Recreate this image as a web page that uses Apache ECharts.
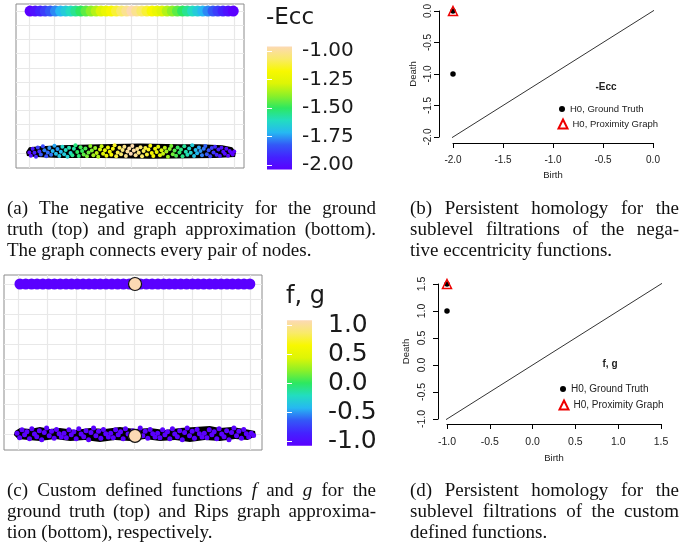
<!DOCTYPE html>
<html><head><meta charset="utf-8">
<script src="https://cdn.jsdelivr.net/npm/echarts/dist/echarts.min.js"></script>
<style>html,body{margin:0;padding:0;background:#fff}#c{width:686px;height:553px}</style>
</head><body><div id="c"></div>
<script>
// ---------- data ----------
const palette = ['#5A00FF','#4422FF','#3358F7','#26B8F2','#22DDC0','#2DE860','#8CF028','#DDF506','#F8F800','#F9EA6A','#FCD9B4'];

// ground-truth node positions (both experiments)
const truthX = [0.05,0.25,0.45,0.64,0.84,1.04,1.24,1.44,1.64,1.83,2.03,2.23,2.43,2.63,2.82,3.02,3.22,3.42,3.62,3.82,4.02,4.21,4.41,4.61,4.81,5.01,5.20,5.40,5.60,5.80,6.00,6.19,6.39,6.59,6.79,6.99,7.19,7.38,7.58,7.78,7.98];
const truthY = 10;
const eccTopVal = [-2.00,-1.95,-1.90,-1.85,-1.80,-1.75,-1.70,-1.65,-1.60,-1.55,-1.50,-1.45,-1.40,-1.35,-1.30,-1.25,-1.20,-1.15,-1.10,-1.05,-1.00,-1.05,-1.10,-1.15,-1.20,-1.25,-1.30,-1.35,-1.40,-1.45,-1.50,-1.55,-1.60,-1.65,-1.70,-1.75,-1.80,-1.85,-1.90,-1.95,-2.00];
const fgTopVal = [-1,-1,-1,-1,-1,-1,-1,-1,-1,-1,-1,-1,-1,-1,-1,-1,-1,-1,-1,-1,1,-1,-1,-1,-1,-1,-1,-1,-1,-1,-1,-1,-1,-1,-1,-1,-1,-1,-1,-1,-1];

// graph approximation nodes [x, y, -ecc]
const eccBottom = [[0.02,0.05,-1.98],[0.08,-0.18,-1.96],[0.15,0.30,-1.93],[0.22,0.02,-1.92],[0.28,-0.25,-1.90],[0.35,0.40,-1.85],[0.41,0.12,-1.88],[0.47,-0.10,-1.80],[0.55,0.48,-1.83],[0.61,0.20,-1.76],[0.68,-0.22,-1.82],[0.74,0.05,-1.78],[0.80,0.35,-1.74],[0.87,-0.12,-1.77],[0.93,0.15,-1.70],[1.00,0.52,-1.72],[1.06,-0.05,-1.68],[1.12,0.28,-1.73],[1.19,-0.20,-1.66],[1.25,0.10,-1.69],[1.31,0.45,-1.62],[1.38,-0.08,-1.65],[1.44,0.22,-1.60],[1.51,-0.25,-1.63],[1.57,0.38,-1.58],[1.63,0.00,-1.61],[1.70,-0.15,-1.55],[1.76,0.30,-1.57],[1.82,0.55,-1.53],[1.89,0.08,-1.50],[1.95,-0.20,-1.52],[2.02,0.42,-1.48],[2.08,0.15,-1.49],[2.14,-0.10,-1.45],[2.21,0.32,-1.47],[2.27,-0.22,-1.42],[2.33,0.05,-1.44],[2.40,0.50,-1.40],[2.46,0.18,-1.41],[2.52,-0.15,-1.37],[2.59,0.35,-1.39],[2.65,0.00,-1.34],[2.71,-0.25,-1.36],[2.78,0.25,-1.31],[2.84,0.48,-1.33],[2.90,-0.05,-1.29],[2.97,0.20,-1.27],[3.03,-0.18,-1.25],[3.09,0.40,-1.26],[3.16,0.10,-1.22],[3.22,-0.12,-1.20],[3.28,0.30,-1.19],[3.35,0.55,-1.16],[3.41,-0.22,-1.15],[3.47,0.05,-1.13],[3.54,0.38,-1.12],[3.60,-0.08,-1.09],[3.66,0.22,-1.08],[3.73,0.45,-1.06],[3.79,-0.20,-1.05],[3.85,0.12,-1.03],[3.92,0.32,-1.02],[3.98,-0.05,-1.00],[4.04,0.50,-1.01],[4.10,0.18,-1.02],[4.17,-0.15,-1.04],[4.23,0.28,-1.05],[4.29,0.02,-1.07],[4.36,0.42,-1.09],[4.42,-0.22,-1.10],[4.48,0.15,-1.12],[4.55,0.35,-1.14],[4.61,-0.10,-1.15],[4.67,0.25,-1.17],[4.74,0.52,-1.19],[4.80,0.00,-1.20],[4.86,-0.20,-1.22],[4.93,0.30,-1.24],[4.99,0.08,-1.25],[5.05,0.45,-1.28],[5.12,-0.15,-1.29],[5.18,0.20,-1.31],[5.24,-0.05,-1.33],[5.31,0.38,-1.34],[5.37,0.12,-1.37],[5.43,-0.25,-1.38],[5.50,0.28,-1.40],[5.56,0.50,-1.42],[5.62,-0.08,-1.43],[5.69,0.18,-1.46],[5.75,-0.18,-1.47],[5.81,0.40,-1.49],[5.88,0.05,-1.51],[5.94,0.25,-1.53],[6.00,-0.22,-1.54],[6.07,0.48,-1.56],[6.13,0.10,-1.58],[6.19,-0.12,-1.59],[6.26,0.32,-1.62],[6.32,0.02,-1.63],[6.38,0.55,-1.65],[6.45,-0.20,-1.67],[6.51,0.22,-1.69],[6.57,-0.02,-1.70],[6.64,0.40,-1.72],[6.70,0.15,-1.74],[6.76,-0.15,-1.76],[6.83,0.30,-1.77],[6.89,0.50,-1.79],[6.95,-0.08,-1.80],[7.02,0.20,-1.82],[7.08,-0.22,-1.84],[7.14,0.35,-1.85],[7.21,0.05,-1.87],[7.27,0.45,-1.89],[7.33,-0.12,-1.90],[7.40,0.25,-1.92],[7.46,-0.20,-1.93],[7.52,0.38,-1.95],[7.59,0.10,-1.96],[7.65,-0.05,-1.97],[7.71,0.30,-1.98],[7.78,-0.18,-1.99],[7.84,0.15,-2.00],[7.90,0.02,-2.00],[7.96,-0.10,-2.00],[8.02,0.12,-2.00]];
// outline of the edge mass (complete graph)
const eccEdges = [[-0.11,0.07],[0.01,0.42],[0.44,0.49],[1.22,0.56],[2.78,0.63],[4.34,0.67],[5.91,0.63],[6.69,0.63],[7.55,0.56],[7.94,0.42],[8.09,0.07],[8.05,-0.28],[7.27,-0.35],[4.73,-0.39],[2.78,-0.35],[1.22,-0.35],[0.24,-0.28],[-0.07,-0.21]];

// Rips graph nodes [x, y, g]
const fgBottom = [[-0.05,0.05,-1],[0.04,-0.25,-1],[0.12,0.28,-1],[0.21,-0.05,-1],[0.29,0.15,-1],[0.38,-0.32,-1],[0.46,0.35,-1],[0.55,0.00,-1],[0.63,-0.18,-1],[0.72,0.22,-1],[0.80,-0.38,-1],[0.89,0.10,-1],[0.97,0.40,-1],[1.06,-0.12,-1],[1.14,0.18,-1],[1.23,-0.28,-1],[1.31,0.30,-1],[1.40,0.02,-1],[1.48,-0.20,-1],[1.57,0.05,-1],[1.65,-0.25,-1],[1.74,0.28,-1],[1.82,-0.05,-1],[1.91,0.15,-1],[1.99,-0.32,-1],[2.08,0.35,-1],[2.16,0.00,-1],[2.25,-0.18,-1],[2.33,0.22,-1],[2.42,-0.38,-1],[2.50,0.10,-1],[2.59,0.40,-1],[2.67,-0.12,-1],[2.76,0.18,-1],[2.84,-0.28,-1],[2.93,0.30,-1],[3.01,0.02,-1],[3.10,-0.20,-1],[3.18,0.05,-1],[3.27,-0.25,-1],[3.35,0.28,-1],[3.44,-0.05,-1],[3.52,0.15,-1],[3.61,-0.32,-1],[3.69,0.35,-1],[3.78,0.00,-1],[3.86,-0.18,-1],[3.95,0.22,-1],[4.03,-0.38,-1],[4.12,0.10,-1],[4.20,0.40,-1],[4.29,-0.12,-1],[4.37,0.18,-1],[4.46,-0.28,-1],[4.54,0.30,-1],[4.63,0.02,-1],[4.71,-0.20,-1],[4.80,0.05,-1],[4.88,-0.25,-1],[4.97,0.28,-1],[5.05,-0.05,-1],[5.14,0.15,-1],[5.22,-0.32,-1],[5.31,0.35,-1],[5.39,0.00,-1],[5.48,-0.18,-1],[5.56,0.22,-1],[5.65,-0.38,-1],[5.73,0.10,-1],[5.82,0.40,-1],[5.90,-0.12,-1],[5.99,0.18,-1],[6.07,-0.28,-1],[6.16,0.30,-1],[6.24,0.02,-1],[6.33,-0.20,-1],[6.41,0.05,-1],[6.50,-0.25,-1],[6.58,0.28,-1],[6.67,-0.05,-1],[6.75,0.15,-1],[6.84,-0.32,-1],[6.92,0.35,-1],[7.01,0.00,-1],[7.09,-0.18,-1],[7.18,0.22,-1],[7.26,-0.38,-1],[7.35,0.10,-1],[7.43,0.40,-1],[7.52,-0.12,-1],[7.60,0.18,-1],[7.69,-0.28,-1],[7.77,0.30,-1],[7.86,0.02,-1],[7.94,-0.20,-1],[8.03,0.05,-1],[8.11,-0.10,-1],[4.02,-0.13,1]];
const fgEdges = [[-0.12,0.2],[0.05,0.4],[0.40,0.33],[0.74,0.47],[1.09,0.33],[1.43,0.4],[1.95,0.27],[2.47,0.4],[2.98,0.33],[3.50,0.47],[4.02,0.33],[4.53,0.4],[5.05,0.27],[5.57,0.4],[6.09,0.47],[6.60,0.53],[6.95,0.4],[7.36,0.47],[7.81,0.33],[8.16,0.2],[8.19,-0.13],[7.91,-0.4],[7.47,-0.33],[6.95,-0.47],[6.43,-0.4],[5.91,-0.53],[5.40,-0.4],[4.88,-0.47],[4.36,-0.33],[3.84,-0.47],[3.33,-0.4],[2.81,-0.53],[2.29,-0.4],[1.78,-0.47],[1.26,-0.33],[0.74,-0.47],[0.33,-0.4],[-0.02,-0.33],[-0.16,-0.07]];

// panel background grid breaks
const gridBreaksX = [0,1,2,3,4,5,6,7,8];
const gridBreaksY = [0,1,2,3,4,5,6,7,8,9,10];

// colour bar ranges
const eccRange = [-2, -1];
const fgRange = [-1, 1];

// persistence diagrams [birth, death]
const pdEccGround = [[-2,-1],[-2,0]];
const pdEccProx = [[-2,0]];
const pdFgGround = [[-1,1],[-1,1.5]];
const pdFgProx = [[-1,1.5]];
const diagEcc = [-2.08, 0.09];
const diagFg = [-1.1, 1.6];

// captions
const captionA = [['(a) The negative eccentricity for the ground',1],['truth (top) and graph approximation (bottom).',1],['The graph connects every pair of nodes.',0]];
const captionB = [['(b) Persistent homology for the',1],['sublevel filtrations of the nega-',1],['tive eccentricity functions.',0]];
const captionC = [['(c) Custom defined functions *f* and *g* for the',1],['ground truth (top) and Rips graph approxima-',1],['tion (bottom), respectively.',0]];
const captionD = [['(d) Persistent homology for the',1],['sublevel filtrations of the custom',1],['defined functions.',0]];

// ---------- helpers ----------
const chart = echarts.init(document.getElementById('c'), null, {renderer:'canvas'});
const mctx = document.createElement('canvas').getContext('2d');
const CAP_FONT = 19;
function captionGraphics(lines, left, right, yc, lh) {
  const out = [];
  lines.forEach(([txt, just], i) => {
    const words = txt.split(' ').map(w => {
      const it = /^\*.+\*$/.test(w);
      const t = it ? w.slice(1, -1) : w;
      mctx.font = (it ? 'italic ' : '') + CAP_FONT + 'px "Liberation Serif"';
      return {t, it, w: mctx.measureText(t).width};
    });
    mctx.font = CAP_FONT + 'px "Liberation Serif"';
    let gap = mctx.measureText(' ').width;
    const sum = words.reduce((a, b) => a + b.w, 0);
    if (just && words.length > 1) gap = (right - left - sum) / (words.length - 1);
    let x = left;
    words.forEach(w => {
      out.push({type:'text', silent:true, x: x, y: yc + i * lh,
        style:{text:w.t, fontFamily:'Liberation Serif', fontSize:CAP_FONT, fontStyle: w.it ? 'italic' : 'normal', fill:'#111', verticalAlign:'middle'}});
      x += w.w + gap;
    });
  });
  return out;
}
const gridLineData = gridBreaksX.map(v => ({xAxis: v})).concat(gridBreaksY.map(v => ({yAxis: v})));
function gridLineSeries(ix) {
  return {type:'scatter', xAxisIndex:ix, yAxisIndex:ix, data:[], z:1, silent:true,
    markLine:{silent:true, z:1, symbol:'none', animation:false, label:{show:false},
      lineStyle:{color:'#e8e8e8', width:1.2, type:'solid'}, data: gridLineData}};
}
function polygonSeries(ix, outline) {
  return {type:'custom', xAxisIndex:ix, yAxisIndex:ix, data:[0], z:2, silent:true,
    renderItem:(p, api) => ({type:'polygon', shape:{points: outline.map(pt => api.coord(pt))}, style:{fill:'#000'}})};
}
function colorbarSeries(ix, range) {
  const ext = (range[1] - range[0]) * 0.04;
  const stops = palette.map((c, i) => ({offset: i / (palette.length - 1), color: c}));
  return {type:'custom', xAxisIndex:ix, yAxisIndex:ix, data:[0], z:1, silent:true, clip:false,
    renderItem:(p, api) => {
      const a = api.coord([0, range[1] + ext]);
      const b = api.coord([1, range[0] - ext]);
      return {type:'rect', shape:{x:a[0], y:a[1], width:b[0]-a[0], height:b[1]-a[1]},
        style:{fill: new echarts.graphic.LinearGradient(0, 1, 0, 0, stops)}};
    }};
}
function rAxis(o) {
  return Object.assign({type:'value', interval:0.5, z:5,
    axisLine:{show:true, onZero:false, lineStyle:{color:'#000', width:1}},
    axisTick:{show:true, inside:false, length:5, lineStyle:{color:'#000'}},
    splitLine:{show:false}, nameLocation:'middle',
    nameTextStyle:{fontFamily:'Liberation Sans', fontSize:9.5, color:'#222'}}, o);
}
function cbAxis(o) {
  return Object.assign({type:'value', z:5, axisLine:{show:false},
    axisTick:{show:true, inside:true, length:5, lineStyle:{color:'#fff', width:1}},
    splitLine:{show:false}}, o);
}
const legendText = {fontFamily:'Liberation Sans', fontSize:9.5, color:'#222'};
const solid = {opacity:1};

const option = {
  animation:false,
  backgroundColor:'#fff',
  title:[
    {text:'-Ecc', left:266, top:7, padding:0, textStyle:{fontFamily:'DejaVu Sans', fontSize:23, fontWeight:'normal', color:'#1a1a1a'}},
    {text:'f, g', left:286, top:285, padding:0, textStyle:{fontFamily:'DejaVu Sans', fontSize:24, fontWeight:'normal', color:'#1a1a1a'}},
    {text:'-Ecc', left:606, top:87, padding:0, textAlign:'center', textVerticalAlign:'middle', textStyle:{fontFamily:'Liberation Sans', fontSize:10, fontWeight:'bold', color:'#222'}},
    {text:'f, g', left:610, top:364, padding:0, textAlign:'center', textVerticalAlign:'middle', textStyle:{fontFamily:'Liberation Sans', fontSize:10, fontWeight:'bold', color:'#222'}}
  ],
  legend:[
    {data:['H0, Ground Truth'], left:559, top:104, orient:'vertical', itemWidth:6, itemHeight:6, padding:0, selectedMode:false, textStyle:legendText},
    {data:['H0, Proximity Graph'], left:557.5, top:118.5, orient:'vertical', itemWidth:9, itemHeight:9, padding:0, selectedMode:false, textStyle:legendText},
    {data:['H0, Ground Truth'], left:560, top:384, orient:'vertical', itemWidth:6, itemHeight:6, padding:0, selectedMode:false, textStyle:Object.assign({}, legendText, {fontSize:10})},
    {data:['H0, Proximity Graph'], left:558.5, top:399.5, orient:'vertical', itemWidth:9, itemHeight:9, padding:0, selectedMode:false, textStyle:Object.assign({}, legendText, {fontSize:10})}
  ],
  grid:[
    {left:16, top:4, width:228, height:164, show:true, borderColor:'#8c8c8c', borderWidth:1, backgroundColor:'#fff'},
    {left:267, top:51, width:25, height:114},
    {left:453, top:11, width:200, height:126},
    {left:4, top:275, width:258, height:175, show:true, borderColor:'#8c8c8c', borderWidth:1, backgroundColor:'#fff'},
    {left:287, top:325, width:25, height:116},
    {left:447, top:284, width:214, height:135}
  ],
  xAxis:[
    {type:'value', gridIndex:0, min:-0.5, max:8.4, show:false},
    {type:'value', gridIndex:1, min:0, max:1, show:false},
    rAxis({gridIndex:2, min:-2, max:0, offset:6, axisLabel:{fontFamily:'Liberation Sans', fontSize:10, color:'#222', margin:12, formatter:v => v.toFixed(1)}, name:'Birth', nameGap:27}),
    {type:'value', gridIndex:3, min:-0.5, max:8.4, show:false},
    {type:'value', gridIndex:4, min:0, max:1, show:false},
    rAxis({gridIndex:5, min:-1, max:1.5, offset:5, axisLabel:{fontFamily:'Liberation Sans', fontSize:10.5, color:'#222', margin:13, formatter:v => v.toFixed(1)}, name:'Birth', nameGap:29})
  ],
  yAxis:[
    {type:'value', gridIndex:0, min:-1.05, max:10.5, show:false},
    cbAxis({gridIndex:1, min:eccRange[0], max:eccRange[1], interval:0.25, position:'right',
      axisLabel:{fontFamily:'DejaVu Sans', fontSize:20, color:'#1a1a1a', margin:10, formatter:v => v.toFixed(2)}}),
    rAxis({gridIndex:2, min:-2, max:0, offset:14, axisLabel:{fontFamily:'Liberation Sans', fontSize:10, color:'#222', rotate:90, margin:6, formatter:v => v.toFixed(1)}, name:'Death', nameGap:21}),
    {type:'value', gridIndex:3, min:-1.07, max:10.6, show:false},
    cbAxis({gridIndex:4, min:fgRange[0], max:fgRange[1], interval:0.5, position:'right',
      axisLabel:{fontFamily:'DejaVu Sans', fontSize:25, color:'#1a1a1a', margin:16, formatter:v => v.toFixed(1)}}),
    rAxis({gridIndex:5, min:-1, max:1.5, offset:9, axisLabel:{fontFamily:'Liberation Sans', fontSize:10.5, color:'#222', rotate:90, margin:10, formatter:v => v.toFixed(1)}, name:'Death', nameGap:27}),
    cbAxis({gridIndex:1, min:eccRange[0], max:eccRange[1], interval:0.25, position:'left', axisLabel:{show:false}}),
    cbAxis({gridIndex:4, min:fgRange[0], max:fgRange[1], interval:0.5, position:'left', axisLabel:{show:false}})
  ],
  visualMap:[
    {type:'continuous', show:false, seriesIndex:[2,3], dimension:2, min:eccRange[0], max:eccRange[1], inRange:{color:palette}},
    {type:'continuous', show:false, seriesIndex:[6,7,8], dimension:2, min:fgRange[0], max:fgRange[1], inRange:{color:palette}}
  ],
  series:[
    gridLineSeries(0),
    polygonSeries(0, eccEdges),
    {type:'scatter', xAxisIndex:0, yAxisIndex:0, z:3, silent:true, symbolSize:4, itemStyle:solid, data:eccBottom},
    {type:'scatter', xAxisIndex:0, yAxisIndex:0, z:3, silent:true, symbolSize:11, itemStyle:solid, data:truthX.map((x, i) => [x, truthY, eccTopVal[i]])},
    gridLineSeries(3),
    polygonSeries(3, fgEdges),
    {type:'scatter', xAxisIndex:3, yAxisIndex:3, z:3, silent:true, symbolSize:5, itemStyle:solid, data:fgBottom.filter(d => d[2] < 0)},
    {type:'scatter', xAxisIndex:3, yAxisIndex:3, z:3, silent:true, symbolSize:11, itemStyle:solid, data:truthX.map((x, i) => [x, truthY, fgTopVal[i]]).filter(d => d[2] < 0)},
    {type:'scatter', xAxisIndex:3, yAxisIndex:3, z:4, silent:true, symbolSize:13,
      itemStyle:{opacity:1, borderColor:'#111', borderWidth:1.2},
      data:truthX.map((x, i) => [x, truthY, fgTopVal[i]]).concat(fgBottom).filter(d => d[2] > 0)},
    colorbarSeries(1, eccRange),
    colorbarSeries(4, fgRange),
    {type:'line', name:'diagEcc', xAxisIndex:2, yAxisIndex:2, clip:false, symbol:'none', silent:true,
      lineStyle:{color:'#333', width:1}, data:diagEcc.map(v => [v, v])},
    {type:'scatter', name:'H0, Ground Truth', xAxisIndex:2, yAxisIndex:2, symbol:'circle', symbolSize:5.5, z:3,
      itemStyle:{color:'#000', opacity:1}, data:pdEccGround},
    {type:'scatter', name:'H0, Proximity Graph', xAxisIndex:2, yAxisIndex:2, symbol:'triangle', symbolSize:9, z:4,
      itemStyle:{color:'rgba(0,0,0,0)', opacity:1, borderColor:'#ee0000', borderWidth:1.5}, data:pdEccProx},
    {type:'line', name:'diagFg', xAxisIndex:5, yAxisIndex:5, clip:false, symbol:'none', silent:true,
      lineStyle:{color:'#333', width:1}, data:diagFg.map(v => [v, v])},
    {type:'scatter', name:'H0, Ground Truth', xAxisIndex:5, yAxisIndex:5, symbol:'circle', symbolSize:5.5, z:3,
      itemStyle:{color:'#000', opacity:1}, data:pdFgGround},
    {type:'scatter', name:'H0, Proximity Graph', xAxisIndex:5, yAxisIndex:5, symbol:'triangle', symbolSize:9, z:4,
      itemStyle:{color:'rgba(0,0,0,0)', opacity:1, borderColor:'#ee0000', borderWidth:1.5}, data:pdFgProx}
  ],
  graphic: [].concat(
    captionGraphics(captionA, 7, 376, 209, 21),
    captionGraphics(captionB, 410, 679, 209, 21),
    captionGraphics(captionC, 7, 376, 491, 21),
    captionGraphics(captionD, 410, 679, 491, 21)
  )
};
chart.setOption(option);
</script></body></html>
